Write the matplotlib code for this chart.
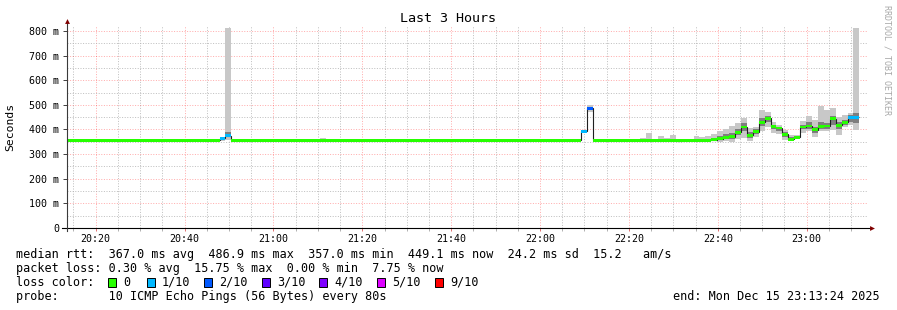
import numpy as np
import matplotlib
matplotlib.use("Agg")
import matplotlib.pyplot as plt
from matplotlib.patches import Rectangle
from matplotlib.ticker import FixedLocator, MultipleLocator

# ---------------- data ----------------
# time axis in minutes after 20:00; one RRD step = 80 s
step_start_min = 13.2
step_len_min = 80 / 60

# median RTT (ms) per 80 s step (134 steps)
median_ms = [
    357, 357, 357, 357, 357, 357, 357, 357, 357, 357,
    357, 357, 357, 357, 357, 357, 357, 357, 357, 357,
    357, 357, 357, 357, 357, 357, 364, 375, 357, 357,
    357, 357, 357, 357, 357, 357, 357, 357, 357, 357,
    357, 357, 357, 357, 357, 357, 357, 357, 357, 357,
    357, 357, 357, 357, 357, 357, 357, 357, 357, 357,
    357, 357, 357, 357, 357, 357, 357, 357, 357, 357,
    357, 357, 357, 357, 357, 357, 357, 357, 357, 357,
    357, 357, 357, 357, 357, 357, 357, 393, 487, 357,
    357, 357, 357, 357, 357, 357, 357, 357, 357, 357,
    357, 357, 357, 355, 356, 357, 357, 357, 356, 358,
    363, 369, 370, 389, 410, 376, 390, 429, 446, 412,
    406, 380, 360, 368, 410, 414, 399, 413, 414, 443,
    418, 430, 449, 449,
]

# lost pings (out of 10) per step
loss_count = [
    0, 0, 0, 0, 0, 0, 0, 0, 0, 0,
    0, 0, 0, 0, 0, 0, 0, 0, 0, 0,
    0, 0, 0, 0, 0, 0, 1, 1, 0, 0,
    0, 0, 0, 0, 0, 0, 0, 0, 0, 0,
    0, 0, 0, 0, 0, 0, 0, 0, 0, 0,
    0, 0, 0, 0, 0, 0, 0, 0, 0, 0,
    0, 0, 0, 0, 0, 0, 0, 0, 0, 0,
    0, 0, 0, 0, 0, 0, 0, 0, 0, 0,
    0, 0, 0, 0, 0, 0, 0, 1, 2, 0,
    0, 0, 0, 0, 0, 0, 0, 0, 0, 0,
    0, 0, 0, 0, 0, 0, 0, 0, 0, 0,
    0, 0, 0, 0, 0, 0, 0, 0, 0, 0,
    0, 0, 0, 0, 0, 0, 0, 0, 0, 0,
    0, 0, 1, 1,
]

# smoke (spread of the 10 pings) for the steps where it is visible
smoke_idx = [26, 27, 43, 87, 88, 97, 98, 100, 101, 102, 106, 107, 108, 109,
             110, 111, 112, 113, 114, 115, 116, 117, 118, 119, 120, 121, 122,
             123, 124, 125, 126, 127, 128, 129, 130, 131, 132, 133]
smoke_min = [355, 358, 357, 385, 470, 356, 356, 356, 356, 356, 355, 355, 354, 352,
             350, 352, 348, 360, 365, 355, 370, 392, 410, 385, 380, 358, 352,
             360, 387, 392, 371, 392, 392, 398, 378, 410, 418, 398]
smoke_q1 = [360, 368, 357, 390, 478, 357, 357, 357, 357, 357, 357, 357, 356, 356,
            358, 362, 362, 378, 395, 365, 380, 415, 430, 400, 395, 370, 356,
            364, 400, 402, 385, 403, 400, 420, 400, 418, 430, 425]
smoke_q3 = [368, 388, 358, 396, 492, 358, 360, 360, 359, 360, 359, 358, 358, 362,
            372, 380, 385, 400, 425, 390, 400, 445, 455, 420, 412, 390, 368,
            372, 420, 430, 412, 430, 428, 455, 430, 440, 458, 465]
smoke_max = [370, 813, 367, 398, 500, 366, 387, 374, 367, 377, 374, 371, 374, 383,
             394, 400, 415, 425, 445, 405, 412, 480, 472, 432, 420, 398, 378,
             376, 435, 455, 439, 496, 477, 487, 452, 459, 466, 813]

x_tick_minutes = [20, 40, 60, 80, 100, 120, 140, 160, 180]
x_tick_labels = ["20:20", "20:40", "21:00", "21:20", "21:40",
                 "22:00", "22:20", "22:40", "23:00"]
y_tick_values = [0, 100, 200, 300, 400, 500, 600, 700, 800]
y_tick_labels = ["0", "100 m", "200 m", "300 m", "400 m",
                 "500 m", "600 m", "700 m", "800 m"]

loss_levels = [0, 1, 2, 3, 4, 5, 9]
loss_labels = ["0", "1/10", "2/10", "3/10", "4/10", "5/10", "9/10"]
loss_colors = ["#26ff00", "#00b8ff", "#0059ff", "#5e00ff",
               "#7e00ff", "#dd00ff", "#ff0000"]

title = "Last 3 Hours"
y_label = "Seconds"
line_rtt = "median rtt:  367.0 ms avg  486.9 ms max  357.0 ms min  449.1 ms now  24.2 ms sd  15.2   am/s"
line_loss = "packet loss: 0.30 % avg  15.75 % max  0.00 % min  7.75 % now"
line_probe = "probe:       10 ICMP Echo Pings (56 Bytes) every 80s"
end_text = "end: Mon Dec 15 23:13:24 2025"
watermark = "RRDTOOL / TOBI OETIKER"

# ---------------- figure ----------------
plt.rcParams["font.family"] = ["DejaVu Sans Mono"]
W, H = 897, 310
fig = plt.figure(figsize=(W / 100, H / 100), dpi=100, facecolor="white")

x0, x1 = 67, 868          # plot area in pixels
y0, y1 = 228, 26
ax = fig.add_axes([x0 / W, 1 - y0 / H, (x1 - x0) / W, (y0 - y1) / H])
ax.set_facecolor("white")

xmin, xmax = 13.54, 193.8
ymin, ymax = 0, 820
ax.set_xlim(xmin, xmax)
ax.set_ylim(ymin, ymax)

n = len(median_ms)
edges = step_start_min + np.arange(n + 1) * step_len_min
med = np.array(median_ms, dtype=float)
loss = np.array(loss_count)

# smoke
smin = np.full(n, np.nan); smax = np.full(n, np.nan)
sq1 = np.full(n, np.nan); sq3 = np.full(n, np.nan)
smin[smoke_idx] = smoke_min; smax[smoke_idx] = smoke_max
sq1[smoke_idx] = smoke_q1; sq3[smoke_idx] = smoke_q3
ax.stairs(smax, edges, baseline=smin, fill=True, color="#c8c8c8", lw=0, zorder=2)
ax.stairs(sq3, edges, baseline=sq1, fill=True, color="#7e7e7e", lw=0, zorder=3)

# black median step line
ax.stairs(med, edges, baseline=None, color="#202020", lw=0.8, zorder=4)

# loss colored median bars
def level_of(c):
    for lv in reversed(loss_levels):
        if c >= lv:
            return lv
    return 0

lvl = np.array([level_of(c) for c in loss])
half = 6.0
for lv, col in zip(loss_levels, loss_colors):
    m = lvl == lv
    if not m.any():
        continue
    top = np.where(m, med + half, np.nan)
    bot = np.where(m, med - half, np.nan)
    ax.stairs(top, edges, baseline=bot, fill=True, color=col, lw=0, zorder=5)

# grid
ax.xaxis.set_major_locator(FixedLocator(x_tick_minutes))
ax.xaxis.set_minor_locator(MultipleLocator(5))
ax.yaxis.set_major_locator(FixedLocator(y_tick_values))
ax.yaxis.set_minor_locator(MultipleLocator(50))
ax.set_xticklabels(x_tick_labels)
ax.set_yticklabels(y_tick_labels)
ax.grid(which="major", color="#ff0000", alpha=0.32, lw=0.72, linestyle=(0, (1, 1.6)))
ax.grid(which="minor", color="#b0b0b0", alpha=0.8, lw=0.72, linestyle=(0, (1, 1.6)))
ax.set_axisbelow(True)

for s in ax.spines.values():
    s.set_visible(False)

ax.tick_params(axis="x", which="major", direction="out", length=2.5, width=0.7,
               color="#e07070", labelsize=7.2, pad=1.8, labelcolor="black")
ax.tick_params(axis="x", which="minor", direction="out", length=2, width=0.7,
               color="#b0b0b0")
ax.tick_params(axis="y", which="major", direction="out", length=2.8, width=0.7,
               color="#404040", labelsize=7.2, pad=3.0, labelcolor="black")
ax.tick_params(axis="y", which="minor", length=0)

# axis lines and arrows
pw, ph = (x1 - x0), (y0 - y1)
ax.plot([-5 / pw, 1 + 2 / pw], [0, 0], transform=ax.transAxes, color="black",
        lw=0.8, clip_on=False, zorder=6)
ax.plot([0, 0], [-3 / ph, 1 + 4 / ph], transform=ax.transAxes, color="#3a3a3a",
        lw=0.8, clip_on=False, zorder=6)
ax.plot([1 + 4 / pw], [0], transform=ax.transAxes, marker=">", ms=3.5,
        color="#800000", clip_on=False, zorder=7, mew=0)
ax.plot([0], [1 + 5 / ph], transform=ax.transAxes, marker="^", ms=3.5,
        color="#800000", clip_on=False, zorder=7, mew=0)

# texts
def fy(px):
    return 1 - px / H

fig.text(448 / W, fy(19), title, ha="center", va="center", fontsize=9.6)
fig.text(10.5 / W, fy(127), y_label, rotation=90, ha="center", va="center",
         fontsize=8.2)
fig.text(887 / W, fy(60), watermark, rotation=270, ha="center", va="center",
         fontsize=6, color="#a8a8a8")

leg_fs = 8.45
fig.text(16 / W, fy(254.3), line_rtt, ha="left", va="center", fontsize=leg_fs)
fig.text(16 / W, fy(268.3), line_loss, ha="left", va="center", fontsize=leg_fs)
fig.text(16 / W, fy(282.3), "loss color:", ha="left", va="center", fontsize=leg_fs)
fig.text(16 / W, fy(296.3), line_probe, ha="left", va="center", fontsize=leg_fs)
fig.text(880 / W, fy(296.3), end_text, ha="right", va="center", fontsize=leg_fs)

box_x = [108, 147, 204, 262, 319, 377, 435]
for bx, lab, col in zip(box_x, loss_labels, loss_colors):
    fig.patches.append(Rectangle((bx / W, fy(286.5)), 7.5 / W, 8.5 / H,
                                 transform=fig.transFigure, facecolor=col,
                                 edgecolor="black", lw=0.7))
    fig.text((bx + 15) / W, fy(282.3), lab, ha="left", va="center", fontsize=leg_fs)

fig.savefig("out.png", dpi=100, facecolor="white")
